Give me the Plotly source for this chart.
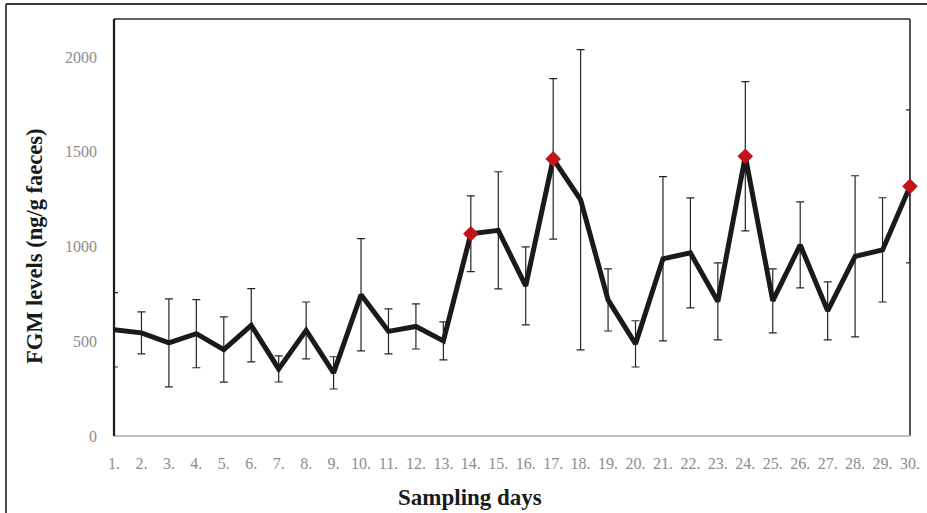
import plotly.graph_objects as go

days = list(range(1, 31))
tick_labels = [f"{d}." for d in days]
fgm_mean = [560, 544, 491, 540, 456, 584, 354, 557, 333, 745,
            552, 578, 502, 1067, 1085, 792, 1462, 1246, 718, 486,
            935, 966, 710, 1476, 713, 1008, 660, 948, 982, 1317]
fgm_sd = [196, 111, 232, 180, 172, 193, 69, 150, 85, 296,
          119, 119, 100, 200, 309, 206, 423, 792, 164, 122,
          433, 290, 203, 394, 169, 227, 153, 425, 275, 404]
highlight_days = [14, 17, 24, 30]
highlight_vals = [fgm_mean[d - 1] for d in highlight_days]

FONT = "Liberation Serif"

fig = go.Figure()
fig.add_trace(go.Scatter(
    x=days, y=fgm_mean, mode="lines",
    line=dict(color="#1a1a1a", width=5),
    error_y=dict(type="data", array=fgm_sd, visible=True,
                 color="#262626", thickness=1.2, width=4),
    cliponaxis=False, showlegend=False, hoverinfo="x+y"))
fig.add_trace(go.Scatter(
    x=highlight_days, y=highlight_vals, mode="markers",
    marker=dict(symbol="diamond", size=12, color="#c0141a"),
    cliponaxis=False, showlegend=False))

shapes = [
    # outer frame
    dict(type="line", xref="paper", yref="paper", x0=-0.1357, x1=-0.1357, y0=-0.3, y1=1.036,
         line=dict(color="#3a3a3a", width=1.8), layer="below"),
    dict(type="line", xref="paper", yref="paper", x0=-0.1357, x1=1.1, y0=1.036, y1=1.036,
         line=dict(color="#3a3a3a", width=1.8), layer="below"),
    # plot area box
    dict(type="line", xref="paper", yref="paper", x0=0, x1=1, y0=1, y1=1,
         line=dict(color="#2a2a2a", width=1.6), layer="below"),
    dict(type="line", xref="paper", yref="paper", x0=1, x1=1, y0=0, y1=1,
         line=dict(color="#2a2a2a", width=1.6), layer="below"),
    dict(type="line", xref="paper", yref="paper", x0=0, x1=1, y0=0, y1=0,
         line=dict(color="#bfbfbf", width=1.8), layer="below"),
    dict(type="line", xref="paper", yref="paper", x0=0, x1=0, y0=0, y1=1,
         line=dict(color="#1a1a1a", width=2.2), layer="below"),
]

fig.update_layout(
    width=927, height=513, autosize=False,
    margin=dict(l=114, r=17, t=19, b=77, pad=0, autoexpand=False),
    paper_bgcolor="white", plot_bgcolor="white",
    font=dict(family=FONT),
    shapes=shapes,
    xaxis=dict(range=[1, 30], tickmode="array", tickvals=days, ticktext=tick_labels,
               showgrid=False, zeroline=False, showline=False, ticks="", automargin=False,
               tickfont=dict(family=FONT, size=16, color="#8c8c8c"),
               ticklabelstandoff=16),
    yaxis=dict(range=[0, 2200], tickvals=[0, 500, 1000, 1500, 2000],
               showgrid=False, zeroline=False, showline=False, ticks="", automargin=False,
               tickfont=dict(family=FONT, size=16, color="#8c8c8c"),
               ticklabelstandoff=16),
    annotations=[
        dict(text="<b>Sampling days</b>", xref="paper", yref="paper",
             x=(470 - 114) / 796, y=(436 - 497) / 417, xanchor="center", yanchor="middle",
             showarrow=False, font=dict(family=FONT, size=23, color="#1a1a1a")),
        dict(text="<b>FGM levels (ng/g faeces)</b>", xref="paper", yref="paper",
             x=(35 - 114) / 796, y=(436 - 246) / 417, xanchor="center", yanchor="middle",
             textangle=-90, showarrow=False, font=dict(family=FONT, size=22.5, color="#1a1a1a")),
    ],
)

fig.write_html("out.html", config={"displayModeBar": False, "responsive": False},
               post_script="document.body.style.margin='0';document.body.style.padding='0';")
